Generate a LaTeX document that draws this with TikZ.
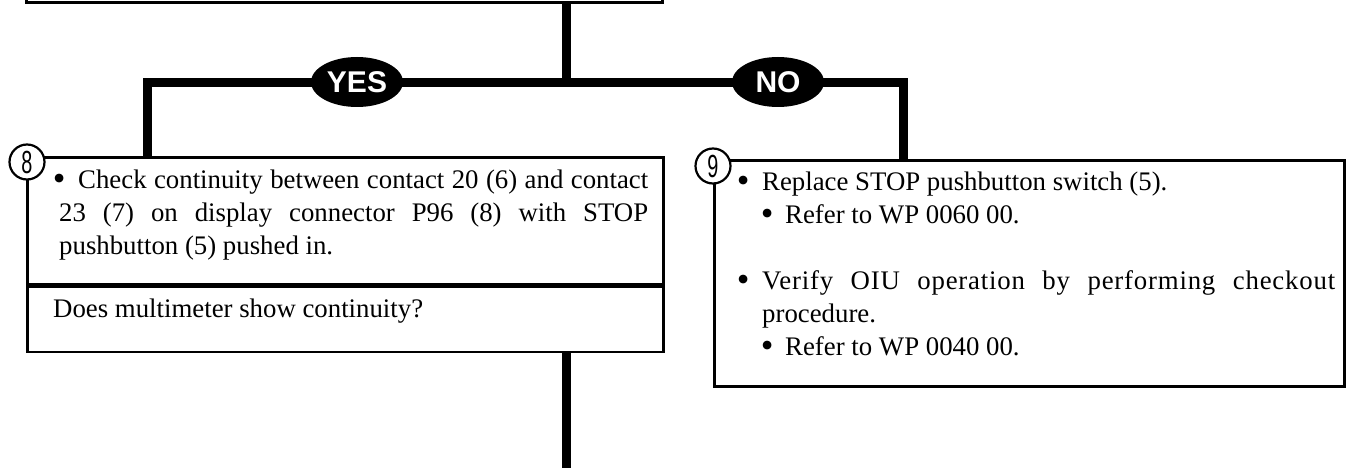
\documentclass[tikz,border=0pt]{standalone}
\usepackage{fontspec}
\setmainfont{Liberation Serif}
\newfontfamily\answerfont{Liberation Sans}
\newfontfamily\numfont[FakeStretch=0.62]{Liberation Sans}
\usetikzlibrary{shapes.geometric,calc}

\newcommand{\bulletdot}{\makebox[0pt]{\raisebox{-2.6pt}{\scalebox{1.35}{\textbullet}}}}

\tikzset{
  flowline/.style={line width=9pt, line cap=butt, line join=miter},
  stepbox/.style={draw, rectangle, line width=2.5pt, inner sep=0pt, anchor=north west},
  answer/.style={ellipse, fill=black, text=white, minimum width=92pt, minimum height=50pt, inner sep=0pt, font=\answerfont\bfseries\fontsize{30}{30}\selectfont},
  stepnum/.style={circle, draw, fill=white, line width=2.2pt, minimum size=35pt, inner sep=0pt, font=\numfont\fontsize{32}{32}\selectfont},
  steptext/.style={anchor=north west, inner sep=0pt, align=justify, font=\fontsize{26.8}{33}\selectfont}
}

\begin{document}
\begin{tikzpicture}[x=1pt,y=-1pt]
\useasboundingbox (0,0) rectangle (1346,468);
\clip (0,0) rectangle (1346,468);

% boxes
\node[stepbox, anchor=south west, minimum width=636pt, minimum height=40pt] (prev) at (25,4) {};
\node[stepbox, minimum width=636pt, minimum height=127pt] (check) at (26,156) {};
\node[stepbox, minimum width=636pt, minimum height=65pt] (ask) at (check.south west) {};
\node[stepbox, minimum width=630pt, minimum height=226pt] (replace) at (713,159) {};

% flow lines
\coordinate (split) at (566,83);
\coordinate (yturn) at (147,83);
\coordinate (nturn) at (903,83);
\coordinate (down) at (566,480);
\draw[flowline] (split |- prev.south) -- (split);
\draw[flowline] (yturn |- check.north) -- (yturn) -- (nturn) -- (nturn |- replace.north);
\draw[flowline] (split |- ask.south) -- (down);

\node[answer] (yes) at (357,82) {YES};
\node[answer] (no) at (778,82) {NO};

% texts
\node[steptext, text width=589pt] (checktext) at (59,164.9) {\parindent=0pt\hangindent=19pt\hangafter=1\strut\makebox[19pt][l]{\bulletdot}Check continuity between contact 20 (6) and contact\linebreak 23 (7) on display connector P96 (8) with STOP\linebreak pushbutton (5) pushed in.};
\node[steptext, text width=589pt] (asktext) at (53,293.9) {\strut Does multimeter show continuity?};
\node[steptext, text width=592pt] (replacetext) at (743,166.9) {\parindent=0pt\strut\makebox[19pt][l]{\bulletdot}Replace STOP pushbutton switch (5).\par
\hspace*{24pt}\makebox[18pt][l]{\bulletdot}Refer to WP 0060 00.\par
\mbox{}\par
\hangindent=19pt\hangafter=1\makebox[19pt][l]{\bulletdot}{\addfontfeature{LetterSpace=3}Verify OIU operation by performing checkout}\linebreak procedure.\par
\hspace*{24pt}\makebox[18pt][l]{\bulletdot}Refer to WP 0040 00.};

\node[stepnum] (n8) at (27,162) {8};
\node[stepnum] (n9) at (713,166) {9};
\end{tikzpicture}
\end{document}
